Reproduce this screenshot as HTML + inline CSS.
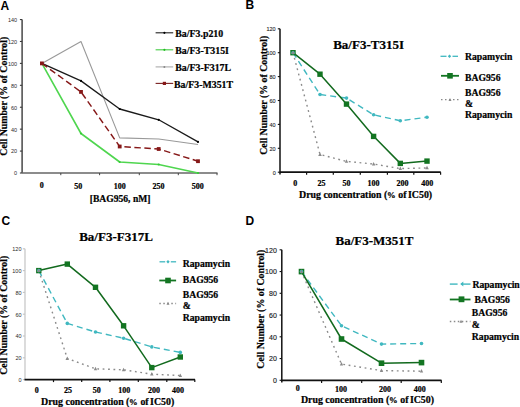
<!DOCTYPE html>
<html><head><meta charset="utf-8"><style>
html,body{margin:0;padding:0;background:#fff;}
body{width:520px;height:407px;overflow:hidden;font-family:"Liberation Serif", serif;}
svg{display:block;}
</style></head><body>
<svg width="520" height="407" viewBox="0 0 520 407">
<rect width="520" height="407" fill="#fff"/>
<text x="0.5" y="9.6" font-size="12" font-weight="bold" font-family='"Liberation Sans", sans-serif' text-anchor="start" fill="#000" >A</text>
<text x="245.5" y="9" font-size="12" font-weight="bold" font-family='"Liberation Sans", sans-serif' text-anchor="start" fill="#000" >B</text>
<text x="1.6" y="224.8" font-size="12" font-weight="bold" font-family='"Liberation Sans", sans-serif' text-anchor="start" fill="#000" >C</text>
<text x="245.5" y="224.5" font-size="12" font-weight="bold" font-family='"Liberation Sans", sans-serif' text-anchor="start" fill="#000" >D</text>
<line x1="22.1" y1="19.560000000000002" x2="22.1" y2="173" stroke="#3a3a3a" stroke-width="1.4" />
<line x1="19.900000000000002" y1="173.0" x2="22.1" y2="173.0" stroke="#3a3a3a" stroke-width="1.1" />
<text x="17.1" y="175.38" font-size="5.5" font-weight="normal" font-family='"Liberation Sans", sans-serif' text-anchor="end" fill="#2a2a2a" >0</text>
<line x1="19.900000000000002" y1="151.07999999999998" x2="22.1" y2="151.07999999999998" stroke="#3a3a3a" stroke-width="1.1" />
<text x="17.1" y="153.45999999999998" font-size="5.5" font-weight="normal" font-family='"Liberation Sans", sans-serif' text-anchor="end" fill="#2a2a2a" >20</text>
<line x1="19.900000000000002" y1="129.16" x2="22.1" y2="129.16" stroke="#3a3a3a" stroke-width="1.1" />
<text x="17.1" y="131.54" font-size="5.5" font-weight="normal" font-family='"Liberation Sans", sans-serif' text-anchor="end" fill="#2a2a2a" >40</text>
<line x1="19.900000000000002" y1="107.24" x2="22.1" y2="107.24" stroke="#3a3a3a" stroke-width="1.1" />
<text x="17.1" y="109.62" font-size="5.5" font-weight="normal" font-family='"Liberation Sans", sans-serif' text-anchor="end" fill="#2a2a2a" >60</text>
<line x1="19.900000000000002" y1="85.32" x2="22.1" y2="85.32" stroke="#3a3a3a" stroke-width="1.1" />
<text x="17.1" y="87.7" font-size="5.5" font-weight="normal" font-family='"Liberation Sans", sans-serif' text-anchor="end" fill="#2a2a2a" >80</text>
<line x1="19.900000000000002" y1="63.39999999999999" x2="22.1" y2="63.39999999999999" stroke="#3a3a3a" stroke-width="1.1" />
<text x="17.1" y="65.78" font-size="5.5" font-weight="normal" font-family='"Liberation Sans", sans-serif' text-anchor="end" fill="#2a2a2a" >100</text>
<line x1="19.900000000000002" y1="41.47999999999999" x2="22.1" y2="41.47999999999999" stroke="#3a3a3a" stroke-width="1.1" />
<text x="17.1" y="43.859999999999985" font-size="5.5" font-weight="normal" font-family='"Liberation Sans", sans-serif' text-anchor="end" fill="#2a2a2a" >120</text>
<line x1="19.900000000000002" y1="19.560000000000002" x2="22.1" y2="19.560000000000002" stroke="#3a3a3a" stroke-width="1.1" />
<text x="17.1" y="21.94" font-size="5.5" font-weight="normal" font-family='"Liberation Sans", sans-serif' text-anchor="end" fill="#2a2a2a" >140</text>
<line x1="22" y1="173" x2="217.5" y2="173" stroke="#666" stroke-width="1.6" />
<line x1="60.8" y1="173" x2="60.8" y2="175.2" stroke="#444" stroke-width="1" />
<line x1="99.6" y1="173" x2="99.6" y2="175.2" stroke="#444" stroke-width="1" />
<line x1="139.3" y1="173" x2="139.3" y2="175.2" stroke="#444" stroke-width="1" />
<line x1="178.3" y1="173" x2="178.3" y2="175.2" stroke="#444" stroke-width="1" />
<line x1="217" y1="173" x2="217" y2="175.2" stroke="#444" stroke-width="1" />
<text x="41.7" y="187.8" font-size="8" font-weight="bold" font-family='"Liberation Serif", serif' text-anchor="middle" fill="#000"  stroke="#000" stroke-width="0.22">0</text>
<text x="78.2" y="188.6" font-size="8" font-weight="bold" font-family='"Liberation Serif", serif' text-anchor="middle" fill="#000"  stroke="#000" stroke-width="0.22">50</text>
<text x="119.8" y="188.6" font-size="8" font-weight="bold" font-family='"Liberation Serif", serif' text-anchor="middle" fill="#000"  stroke="#000" stroke-width="0.22">100</text>
<text x="158.4" y="188.6" font-size="8" font-weight="bold" font-family='"Liberation Serif", serif' text-anchor="middle" fill="#000"  stroke="#000" stroke-width="0.22">250</text>
<text x="197.7" y="188.6" font-size="8" font-weight="bold" font-family='"Liberation Serif", serif' text-anchor="middle" fill="#000"  stroke="#000" stroke-width="0.22">500</text>
<text x="120.1" y="202.0" font-size="9.6" font-weight="bold" font-family='"Liberation Serif", serif' text-anchor="middle" fill="#000"  stroke="#000" stroke-width="0.22">[BAG956, nM]</text>
<text transform="translate(7.1,96.2) rotate(-90)" x="0" y="0" font-size="9.87" font-weight="bold" font-family='"Liberation Serif", serif' text-anchor="middle" fill="#000" stroke="#000" stroke-width="0.2">Cell Number (% of Control)</text>
<polyline points="41.9,63.4 81.0,41.5 119.7,137.9 158.7,139.0 198.0,144.5" fill="none" stroke="#999" stroke-width="1.1" stroke-linejoin="round" />
<polyline points="41.9,63.4 81.0,80.9 119.7,109.0 158.7,119.8 198.0,141.9" fill="none" stroke="#1a1a1a" stroke-width="1.3" stroke-linejoin="round" />
<polyline points="41.9,63.4 81.0,133.5 119.7,162.0 158.7,164.5 198.0,173.0" fill="none" stroke="#4fd64f" stroke-width="1.6" stroke-linejoin="round" />
<polyline points="41.9,63.4 81.0,91.9 119.7,146.5 158.7,149.0 198.0,161.2" fill="none" stroke="#861818" stroke-width="1.45" stroke-linejoin="round" stroke-dasharray="6.5,3.5"/>
<circle cx="41.9" cy="63.4" r="1.1" fill="#3c3"/>
<circle cx="81.0" cy="133.5" r="1.1" fill="#3c3"/>
<circle cx="119.7" cy="162.0" r="1.1" fill="#3c3"/>
<circle cx="158.7" cy="164.5" r="1.1" fill="#3c3"/>
<circle cx="198.0" cy="173.0" r="1.1" fill="#3c3"/>
<circle cx="41.9" cy="63.4" r="1.1" fill="#000"/>
<circle cx="81.0" cy="80.9" r="1.1" fill="#000"/>
<circle cx="119.7" cy="109.0" r="1.1" fill="#000"/>
<circle cx="158.7" cy="119.8" r="1.1" fill="#000"/>
<circle cx="198.0" cy="141.9" r="1.1" fill="#000"/>
<rect x="40.0" y="61.5" width="3.8" height="3.8" fill="#861818"/>
<rect x="79.1" y="90.0" width="3.8" height="3.8" fill="#861818"/>
<rect x="117.8" y="144.6" width="3.8" height="3.8" fill="#861818"/>
<rect x="156.8" y="147.1" width="3.8" height="3.8" fill="#861818"/>
<rect x="196.1" y="159.3" width="3.8" height="3.8" fill="#861818"/>
<line x1="155.6" y1="32.8" x2="173.2" y2="32.8" stroke="#222" stroke-width="1.1" />
<text x="175.3" y="37.1" font-size="9.85" font-weight="bold" font-family='"Liberation Serif", serif' text-anchor="start" fill="#000"  stroke="#000" stroke-width="0.22">Ba/F3.p210</text>
<line x1="155.6" y1="49.8" x2="173.2" y2="49.8" stroke="#4c4" stroke-width="1.1" />
<text x="175.3" y="54.0" font-size="9.85" font-weight="bold" font-family='"Liberation Serif", serif' text-anchor="start" fill="#000"  stroke="#000" stroke-width="0.22">Ba/F3-T315I</text>
<line x1="155.6" y1="66.9" x2="173.2" y2="66.9" stroke="#aaa" stroke-width="1.1" />
<text x="175.3" y="70.5" font-size="9.85" font-weight="bold" font-family='"Liberation Serif", serif' text-anchor="start" fill="#000"  stroke="#000" stroke-width="0.22">Ba/F3-F317L</text>
<line x1="155.6" y1="83.4" x2="173.2" y2="83.4" stroke="#7a2020" stroke-width="1.1" />
<text x="174" y="87.9" font-size="9.85" font-weight="bold" font-family='"Liberation Serif", serif' text-anchor="start" fill="#000"  stroke="#000" stroke-width="0.22">Ba/F3-M351T</text>
<rect x="162.8" y="81.8" width="3.2" height="3.2" fill="#861818"/>
<circle cx="164.4" cy="32.8" r="1.1" fill="#000"/>
<circle cx="164.4" cy="49.8" r="1.1" fill="#2b2"/>
<circle cx="164.4" cy="66.9" r="1.0" fill="#888"/>
<line x1="280" y1="28.799999999999983" x2="280" y2="174.39999999999998" stroke="#111" stroke-width="1.5" />
<line x1="277.8" y1="172.2" x2="280" y2="172.2" stroke="#111" stroke-width="1.1" />
<text x="275.7" y="174.57999999999998" font-size="5.5" font-weight="normal" font-family='"Liberation Sans", sans-serif' text-anchor="end" fill="#2a2a2a" stroke="#2a2a2a" stroke-width="0.12">0</text>
<line x1="277.8" y1="148.29999999999998" x2="280" y2="148.29999999999998" stroke="#111" stroke-width="1.1" />
<text x="275.7" y="150.67999999999998" font-size="5.5" font-weight="normal" font-family='"Liberation Sans", sans-serif' text-anchor="end" fill="#2a2a2a" stroke="#2a2a2a" stroke-width="0.12">20</text>
<line x1="277.8" y1="124.39999999999998" x2="280" y2="124.39999999999998" stroke="#111" stroke-width="1.1" />
<text x="275.7" y="126.77999999999999" font-size="5.5" font-weight="normal" font-family='"Liberation Sans", sans-serif' text-anchor="end" fill="#2a2a2a" stroke="#2a2a2a" stroke-width="0.12">40</text>
<line x1="277.8" y1="100.49999999999999" x2="280" y2="100.49999999999999" stroke="#111" stroke-width="1.1" />
<text x="275.7" y="102.88" font-size="5.5" font-weight="normal" font-family='"Liberation Sans", sans-serif' text-anchor="end" fill="#2a2a2a" stroke="#2a2a2a" stroke-width="0.12">60</text>
<line x1="277.8" y1="76.59999999999998" x2="280" y2="76.59999999999998" stroke="#111" stroke-width="1.1" />
<text x="275.7" y="78.97999999999999" font-size="5.5" font-weight="normal" font-family='"Liberation Sans", sans-serif' text-anchor="end" fill="#2a2a2a" stroke="#2a2a2a" stroke-width="0.12">80</text>
<line x1="277.8" y1="52.69999999999999" x2="280" y2="52.69999999999999" stroke="#111" stroke-width="1.1" />
<text x="275.7" y="55.079999999999984" font-size="5.5" font-weight="normal" font-family='"Liberation Sans", sans-serif' text-anchor="end" fill="#2a2a2a" stroke="#2a2a2a" stroke-width="0.12">100</text>
<line x1="277.8" y1="28.799999999999983" x2="280" y2="28.799999999999983" stroke="#111" stroke-width="1.1" />
<text x="275.7" y="31.179999999999982" font-size="5.5" font-weight="normal" font-family='"Liberation Sans", sans-serif' text-anchor="end" fill="#2a2a2a" stroke="#2a2a2a" stroke-width="0.12">120</text>
<line x1="280" y1="172.2" x2="440.8" y2="172.2" stroke="#111" stroke-width="1.8" />
<line x1="306.6" y1="172.2" x2="306.6" y2="174.79999999999998" stroke="#111" stroke-width="1.2" />
<line x1="333.3" y1="172.2" x2="333.3" y2="174.79999999999998" stroke="#111" stroke-width="1.2" />
<line x1="360.3" y1="172.2" x2="360.3" y2="174.79999999999998" stroke="#111" stroke-width="1.2" />
<line x1="387.4" y1="172.2" x2="387.4" y2="174.79999999999998" stroke="#111" stroke-width="1.2" />
<line x1="413.8" y1="172.2" x2="413.8" y2="174.79999999999998" stroke="#111" stroke-width="1.2" />
<line x1="440.6" y1="172.2" x2="440.6" y2="174.79999999999998" stroke="#111" stroke-width="1.2" />
<text x="295.3" y="186" font-size="8" font-weight="bold" font-family='"Liberation Serif", serif' text-anchor="middle" fill="#000"  stroke="#000" stroke-width="0.22">0</text>
<text x="321.6" y="186" font-size="8" font-weight="bold" font-family='"Liberation Serif", serif' text-anchor="middle" fill="#000"  stroke="#000" stroke-width="0.22">25</text>
<text x="346.6" y="186" font-size="8" font-weight="bold" font-family='"Liberation Serif", serif' text-anchor="middle" fill="#000"  stroke="#000" stroke-width="0.22">50</text>
<text x="373.5" y="186" font-size="8" font-weight="bold" font-family='"Liberation Serif", serif' text-anchor="middle" fill="#000"  stroke="#000" stroke-width="0.22">100</text>
<text x="402.5" y="186" font-size="8" font-weight="bold" font-family='"Liberation Serif", serif' text-anchor="middle" fill="#000"  stroke="#000" stroke-width="0.22">200</text>
<text x="427.2" y="186" font-size="8" font-weight="bold" font-family='"Liberation Serif", serif' text-anchor="middle" fill="#000"  stroke="#000" stroke-width="0.22">400</text>
<text x="299.0" y="197.6" font-size="9.9" font-weight="bold" font-family='"Liberation Serif", serif' text-anchor="start" fill="#000"  stroke="#000" stroke-width="0.22">Drug concentration (</text>
<text x="387.0" y="197.6" font-size="8.6" font-weight="bold" font-family='"Liberation Serif", serif' text-anchor="start" fill="#000"  stroke="#000" stroke-width="0.22">%</text>
<text x="398.3" y="197.6" font-size="9.9" font-weight="bold" font-family='"Liberation Serif", serif' text-anchor="start" fill="#000"  stroke="#000" stroke-width="0.22">of</text>
<text x="408.0" y="197.6" font-size="9.9" font-weight="bold" font-family='"Liberation Serif", serif' text-anchor="start" fill="#000"  stroke="#000" stroke-width="0.22">IC50)</text>
<text x="368.6" y="48.8" font-size="13" font-weight="bold" font-family='"Liberation Serif", serif' text-anchor="middle" fill="#000"  stroke="#000" stroke-width="0.22">Ba/F3-T315I</text>
<text transform="translate(266.7,95.3) rotate(-90)" x="0" y="0" font-size="9.87" font-weight="bold" font-family='"Liberation Serif", serif' text-anchor="middle" fill="#000" stroke="#000" stroke-width="0.2">Cell Number (% of Control)</text>
<polyline points="293.0,52.7 320.0,154.5 346.5,161.4 373.6,164.0 400.3,168.6 427.0,167.9" fill="none" stroke="#8a8a8a" stroke-width="1.4" stroke-linejoin="round" stroke-dasharray="1.8,3.6"/>
<polyline points="293.0,52.7 320.0,94.5 346.5,98.1 373.6,114.8 400.3,120.8 427.0,117.2" fill="none" stroke="#40b8c0" stroke-width="1.4" stroke-linejoin="round" stroke-dasharray="6,4"/>
<polyline points="293.0,52.7 320.0,74.2 346.5,104.1 373.6,136.3 400.3,163.4 427.0,161.1" fill="none" stroke="#126a1e" stroke-width="1.5" stroke-linejoin="round" />
<rect x="290.3" y="50.0" width="5.4" height="5.4" fill="#137522"/>
<rect x="317.3" y="71.5" width="5.4" height="5.4" fill="#137522"/>
<rect x="343.8" y="101.4" width="5.4" height="5.4" fill="#137522"/>
<rect x="370.9" y="133.7" width="5.4" height="5.4" fill="#137522"/>
<rect x="397.6" y="160.7" width="5.4" height="5.4" fill="#137522"/>
<rect x="424.3" y="158.4" width="5.4" height="5.4" fill="#137522"/>
<circle cx="293.0" cy="52.7" r="1.8" fill="#40b8c0"/>
<circle cx="320.0" cy="94.5" r="1.8" fill="#40b8c0"/>
<circle cx="346.5" cy="98.1" r="1.8" fill="#40b8c0"/>
<circle cx="373.6" cy="114.8" r="1.8" fill="#40b8c0"/>
<circle cx="400.3" cy="120.8" r="1.8" fill="#40b8c0"/>
<circle cx="427.0" cy="117.2" r="1.8" fill="#40b8c0"/>
<polygon points="293.0,50.6 294.8,54.1 291.2,54.1" fill="#8a8a8a"/>
<polygon points="320.0,152.4 321.8,155.9 318.2,155.9" fill="#8a8a8a"/>
<polygon points="346.5,159.3 348.2,162.8 344.8,162.8" fill="#8a8a8a"/>
<polygon points="373.6,161.9 375.4,165.4 371.9,165.4" fill="#8a8a8a"/>
<polygon points="400.3,166.5 402.1,170.0 398.6,170.0" fill="#8a8a8a"/>
<polygon points="427.0,165.8 428.8,169.3 425.2,169.3" fill="#8a8a8a"/>
<line x1="440.5" y1="56.3" x2="446.5" y2="56.3" stroke="#40b8c0" stroke-width="1.3" />
<line x1="452.5" y1="56.3" x2="458" y2="56.3" stroke="#40b8c0" stroke-width="1.3" />
<polygon points="449.5,54.6 451.2,56.3 449.5,58.0 447.8,56.3" fill="#40b8c0"/>
<line x1="441" y1="75.8" x2="459" y2="75.8" stroke="#137522" stroke-width="1.8" />
<rect x="447.2" y="73.0" width="5.6" height="5.6" fill="#137522"/>
<line x1="441" y1="99.7" x2="459" y2="99.7" stroke="#8a8a8a" stroke-width="1.3" stroke-dasharray="1.5,2.5"/>
<polygon points="450.0,97.9 451.5,100.9 448.5,100.9" fill="#8a8a8a"/>
<text x="465" y="60.3" font-size="9.7" font-weight="bold" font-family='"Liberation Serif", serif' text-anchor="start" fill="#000"  stroke="#000" stroke-width="0.22">Rapamycin</text>
<text x="465" y="80.6" font-size="9.7" font-weight="bold" font-family='"Liberation Serif", serif' text-anchor="start" fill="#000"  stroke="#000" stroke-width="0.22">BAG956</text>
<text x="465" y="95.8" font-size="9.7" font-weight="bold" font-family='"Liberation Serif", serif' text-anchor="start" fill="#000"  stroke="#000" stroke-width="0.22">BAG956</text>
<text x="465" y="107.3" font-size="9.7" font-weight="bold" font-family='"Liberation Serif", serif' text-anchor="start" fill="#000"  stroke="#000" stroke-width="0.22">&amp;</text>
<text x="465" y="118.4" font-size="9.7" font-weight="bold" font-family='"Liberation Serif", serif' text-anchor="start" fill="#000"  stroke="#000" stroke-width="0.22">Rapamycin</text>
<line x1="25" y1="248.8" x2="25" y2="379.6" stroke="#c4c4c4" stroke-width="1.2" />
<line x1="22.8" y1="379.6" x2="25" y2="379.6" stroke="#c4c4c4" stroke-width="1.1" />
<text x="21.5" y="381.98" font-size="5.5" font-weight="normal" font-family='"Liberation Sans", sans-serif' text-anchor="end" fill="#2a2a2a" >0</text>
<line x1="22.8" y1="357.8" x2="25" y2="357.8" stroke="#c4c4c4" stroke-width="1.1" />
<text x="21.5" y="360.18" font-size="5.5" font-weight="normal" font-family='"Liberation Sans", sans-serif' text-anchor="end" fill="#2a2a2a" >20</text>
<line x1="22.8" y1="336.0" x2="25" y2="336.0" stroke="#c4c4c4" stroke-width="1.1" />
<text x="21.5" y="338.38" font-size="5.5" font-weight="normal" font-family='"Liberation Sans", sans-serif' text-anchor="end" fill="#2a2a2a" >40</text>
<line x1="22.8" y1="314.20000000000005" x2="25" y2="314.20000000000005" stroke="#c4c4c4" stroke-width="1.1" />
<text x="21.5" y="316.58000000000004" font-size="5.5" font-weight="normal" font-family='"Liberation Sans", sans-serif' text-anchor="end" fill="#2a2a2a" >60</text>
<line x1="22.8" y1="292.40000000000003" x2="25" y2="292.40000000000003" stroke="#c4c4c4" stroke-width="1.1" />
<text x="21.5" y="294.78000000000003" font-size="5.5" font-weight="normal" font-family='"Liberation Sans", sans-serif' text-anchor="end" fill="#2a2a2a" >80</text>
<line x1="22.8" y1="270.6" x2="25" y2="270.6" stroke="#c4c4c4" stroke-width="1.1" />
<text x="21.5" y="272.98" font-size="5.5" font-weight="normal" font-family='"Liberation Sans", sans-serif' text-anchor="end" fill="#2a2a2a" >100</text>
<line x1="22.8" y1="248.8" x2="25" y2="248.8" stroke="#c4c4c4" stroke-width="1.1" />
<text x="21.5" y="251.18" font-size="5.5" font-weight="normal" font-family='"Liberation Sans", sans-serif' text-anchor="end" fill="#2a2a2a" >120</text>
<line x1="24.5" y1="379.6" x2="195" y2="379.6" stroke="#111" stroke-width="1.7" />
<line x1="53.5" y1="379.6" x2="53.5" y2="382.1" stroke="#111" stroke-width="1.2" />
<line x1="81.7" y1="379.6" x2="81.7" y2="382.1" stroke="#111" stroke-width="1.2" />
<line x1="109.9" y1="379.6" x2="109.9" y2="382.1" stroke="#111" stroke-width="1.2" />
<line x1="138.3" y1="379.6" x2="138.3" y2="382.1" stroke="#111" stroke-width="1.2" />
<line x1="166.8" y1="379.6" x2="166.8" y2="382.1" stroke="#111" stroke-width="1.2" />
<line x1="194.8" y1="379.6" x2="194.8" y2="382.1" stroke="#111" stroke-width="1.2" />
<text x="36.8" y="393" font-size="8" font-weight="bold" font-family='"Liberation Serif", serif' text-anchor="middle" fill="#000"  stroke="#000" stroke-width="0.22">0</text>
<text x="67.9" y="393" font-size="8" font-weight="bold" font-family='"Liberation Serif", serif' text-anchor="middle" fill="#000"  stroke="#000" stroke-width="0.22">25</text>
<text x="96.8" y="393" font-size="8" font-weight="bold" font-family='"Liberation Serif", serif' text-anchor="middle" fill="#000"  stroke="#000" stroke-width="0.22">50</text>
<text x="124.3" y="393" font-size="8" font-weight="bold" font-family='"Liberation Serif", serif' text-anchor="middle" fill="#000"  stroke="#000" stroke-width="0.22">100</text>
<text x="154.1" y="393" font-size="8" font-weight="bold" font-family='"Liberation Serif", serif' text-anchor="middle" fill="#000"  stroke="#000" stroke-width="0.22">200</text>
<text x="178" y="393" font-size="8" font-weight="bold" font-family='"Liberation Serif", serif' text-anchor="middle" fill="#000"  stroke="#000" stroke-width="0.22">400</text>
<text x="41.1" y="404.8" font-size="9.9" font-weight="bold" font-family='"Liberation Serif", serif' text-anchor="start" fill="#000"  stroke="#000" stroke-width="0.22">Drug concentration (</text>
<text x="129.1" y="404.8" font-size="8.6" font-weight="bold" font-family='"Liberation Serif", serif' text-anchor="start" fill="#000"  stroke="#000" stroke-width="0.22">%</text>
<text x="140.4" y="404.8" font-size="9.9" font-weight="bold" font-family='"Liberation Serif", serif' text-anchor="start" fill="#000"  stroke="#000" stroke-width="0.22">of</text>
<text x="150.1" y="404.8" font-size="9.9" font-weight="bold" font-family='"Liberation Serif", serif' text-anchor="start" fill="#000"  stroke="#000" stroke-width="0.22">IC50)</text>
<text x="116" y="241.2" font-size="13" font-weight="bold" font-family='"Liberation Serif", serif' text-anchor="middle" fill="#000"  stroke="#000" stroke-width="0.22">Ba/F3-F317L</text>
<text transform="translate(7.2,315.3) rotate(-90)" x="0" y="0" font-size="9.87" font-weight="bold" font-family='"Liberation Serif", serif' text-anchor="middle" fill="#000" stroke="#000" stroke-width="0.2">Cell Number (% of Control)</text>
<polyline points="38.8,270.6 67.3,358.5 95.5,368.8 123.6,369.8 151.8,374.2 180.3,375.5" fill="none" stroke="#8a8a8a" stroke-width="1.4" stroke-linejoin="round" stroke-dasharray="1.8,3.6"/>
<polyline points="38.8,270.6 67.3,323.4 95.5,332.0 123.6,338.2 151.8,346.9 180.3,352.4" fill="none" stroke="#40b8c0" stroke-width="1.4" stroke-linejoin="round" stroke-dasharray="6,4"/>
<polyline points="38.8,270.6 67.3,264.1 95.5,287.3 123.6,325.8 151.8,367.6 180.3,357.0" fill="none" stroke="#126a1e" stroke-width="1.5" stroke-linejoin="round" />
<rect x="36.1" y="267.9" width="5.4" height="5.4" fill="#137522"/>
<rect x="64.6" y="261.4" width="5.4" height="5.4" fill="#137522"/>
<rect x="92.8" y="284.6" width="5.4" height="5.4" fill="#137522"/>
<rect x="120.9" y="323.1" width="5.4" height="5.4" fill="#137522"/>
<rect x="149.1" y="364.9" width="5.4" height="5.4" fill="#137522"/>
<rect x="177.6" y="354.3" width="5.4" height="5.4" fill="#137522"/>
<circle cx="38.8" cy="270.6" r="1.8" fill="#40b8c0"/>
<circle cx="67.3" cy="323.4" r="1.8" fill="#40b8c0"/>
<circle cx="95.5" cy="332.0" r="1.8" fill="#40b8c0"/>
<circle cx="123.6" cy="338.2" r="1.8" fill="#40b8c0"/>
<circle cx="151.8" cy="346.9" r="1.8" fill="#40b8c0"/>
<circle cx="180.3" cy="352.4" r="1.8" fill="#40b8c0"/>
<polygon points="38.8,268.5 40.5,272.0 37.0,272.0" fill="#8a8a8a"/>
<polygon points="67.3,356.4 69.0,359.9 65.5,359.9" fill="#8a8a8a"/>
<polygon points="95.5,366.7 97.2,370.2 93.8,370.2" fill="#8a8a8a"/>
<polygon points="123.6,367.7 125.3,371.2 121.8,371.2" fill="#8a8a8a"/>
<polygon points="151.8,372.1 153.6,375.6 150.1,375.6" fill="#8a8a8a"/>
<polygon points="180.3,373.4 182.1,376.9 178.6,376.9" fill="#8a8a8a"/>
<line x1="159.5" y1="261.8" x2="165.2" y2="261.8" stroke="#40b8c0" stroke-width="1.3" />
<line x1="170.8" y1="261.8" x2="176.1" y2="261.8" stroke="#40b8c0" stroke-width="1.3" />
<polygon points="168.0,260.1 169.7,261.8 168.0,263.5 166.3,261.8" fill="#40b8c0"/>
<line x1="159.3" y1="280.5" x2="176.1" y2="280.5" stroke="#137522" stroke-width="1.8" />
<rect x="165.2" y="277.7" width="5.6" height="5.6" fill="#137522"/>
<line x1="159.3" y1="303.5" x2="176.1" y2="303.5" stroke="#8a8a8a" stroke-width="1.3" stroke-dasharray="1.5,2.5"/>
<polygon points="168.0,301.7 169.5,304.7 166.5,304.7" fill="#8a8a8a"/>
<text x="182.7" y="266.6" font-size="9.7" font-weight="bold" font-family='"Liberation Serif", serif' text-anchor="start" fill="#000"  stroke="#000" stroke-width="0.22">Rapamycin</text>
<text x="182.7" y="283.2" font-size="9.7" font-weight="bold" font-family='"Liberation Serif", serif' text-anchor="start" fill="#000"  stroke="#000" stroke-width="0.22">BAG956</text>
<text x="182.7" y="297.6" font-size="9.7" font-weight="bold" font-family='"Liberation Serif", serif' text-anchor="start" fill="#000"  stroke="#000" stroke-width="0.22">BAG956</text>
<text x="182.7" y="309.3" font-size="9.7" font-weight="bold" font-family='"Liberation Serif", serif' text-anchor="start" fill="#000"  stroke="#000" stroke-width="0.22">&amp;</text>
<text x="182.7" y="320.8" font-size="9.7" font-weight="bold" font-family='"Liberation Serif", serif' text-anchor="start" fill="#000"  stroke="#000" stroke-width="0.22">Rapamycin</text>
<line x1="281.8" y1="249.8" x2="281.8" y2="382.5" stroke="#111" stroke-width="1.5" />
<line x1="279.6" y1="380.3" x2="281.8" y2="380.3" stroke="#111" stroke-width="1.1" />
<text x="276.8" y="383.21999999999997" font-size="7" font-weight="normal" font-family='"Liberation Sans", sans-serif' text-anchor="end" fill="#1a1a1a" stroke="#1a1a1a" stroke-width="0.15">0</text>
<line x1="279.6" y1="358.55" x2="281.8" y2="358.55" stroke="#111" stroke-width="1.1" />
<text x="276.8" y="361.46999999999997" font-size="7" font-weight="normal" font-family='"Liberation Sans", sans-serif' text-anchor="end" fill="#1a1a1a" stroke="#1a1a1a" stroke-width="0.15">20</text>
<line x1="279.6" y1="336.8" x2="281.8" y2="336.8" stroke="#111" stroke-width="1.1" />
<text x="276.8" y="339.71999999999997" font-size="7" font-weight="normal" font-family='"Liberation Sans", sans-serif' text-anchor="end" fill="#1a1a1a" stroke="#1a1a1a" stroke-width="0.15">40</text>
<line x1="279.6" y1="315.05" x2="281.8" y2="315.05" stroke="#111" stroke-width="1.1" />
<text x="276.8" y="317.96999999999997" font-size="7" font-weight="normal" font-family='"Liberation Sans", sans-serif' text-anchor="end" fill="#1a1a1a" stroke="#1a1a1a" stroke-width="0.15">60</text>
<line x1="279.6" y1="293.3" x2="281.8" y2="293.3" stroke="#111" stroke-width="1.1" />
<text x="276.8" y="296.21999999999997" font-size="7" font-weight="normal" font-family='"Liberation Sans", sans-serif' text-anchor="end" fill="#1a1a1a" stroke="#1a1a1a" stroke-width="0.15">80</text>
<line x1="279.6" y1="271.55" x2="281.8" y2="271.55" stroke="#111" stroke-width="1.1" />
<text x="276.8" y="274.46999999999997" font-size="7" font-weight="normal" font-family='"Liberation Sans", sans-serif' text-anchor="end" fill="#1a1a1a" stroke="#1a1a1a" stroke-width="0.15">100</text>
<line x1="279.6" y1="249.8" x2="281.8" y2="249.8" stroke="#111" stroke-width="1.1" />
<text x="276.8" y="252.72000000000003" font-size="7" font-weight="normal" font-family='"Liberation Sans", sans-serif' text-anchor="end" fill="#1a1a1a" stroke="#1a1a1a" stroke-width="0.15">120</text>
<line x1="281.8" y1="380.3" x2="441.5" y2="380.3" stroke="#111" stroke-width="1.8" />
<line x1="321.6" y1="380.3" x2="321.6" y2="382.90000000000003" stroke="#111" stroke-width="1.2" />
<line x1="361.7" y1="380.3" x2="361.7" y2="382.90000000000003" stroke="#111" stroke-width="1.2" />
<line x1="401.2" y1="380.3" x2="401.2" y2="382.90000000000003" stroke="#111" stroke-width="1.2" />
<line x1="441.3" y1="380.3" x2="441.3" y2="382.90000000000003" stroke="#111" stroke-width="1.2" />
<text x="297.7" y="390.5" font-size="8" font-weight="bold" font-family='"Liberation Serif", serif' text-anchor="middle" fill="#000"  stroke="#000" stroke-width="0.22">0</text>
<text x="340.9" y="392" font-size="8" font-weight="bold" font-family='"Liberation Serif", serif' text-anchor="middle" fill="#000"  stroke="#000" stroke-width="0.22">100</text>
<text x="385.1" y="392" font-size="8" font-weight="bold" font-family='"Liberation Serif", serif' text-anchor="middle" fill="#000"  stroke="#000" stroke-width="0.22">200</text>
<text x="419.7" y="392" font-size="8" font-weight="bold" font-family='"Liberation Serif", serif' text-anchor="middle" fill="#000"  stroke="#000" stroke-width="0.22">400</text>
<text x="300.9" y="403.3" font-size="9.9" font-weight="bold" font-family='"Liberation Serif", serif' text-anchor="start" fill="#000"  stroke="#000" stroke-width="0.22">Drug concentration (</text>
<text x="388.9" y="403.3" font-size="8.6" font-weight="bold" font-family='"Liberation Serif", serif' text-anchor="start" fill="#000"  stroke="#000" stroke-width="0.22">%</text>
<text x="400.2" y="403.3" font-size="9.9" font-weight="bold" font-family='"Liberation Serif", serif' text-anchor="start" fill="#000"  stroke="#000" stroke-width="0.22">of</text>
<text x="409.9" y="403.3" font-size="9.9" font-weight="bold" font-family='"Liberation Serif", serif' text-anchor="start" fill="#000"  stroke="#000" stroke-width="0.22">IC50)</text>
<text x="374.5" y="244.8" font-size="13" font-weight="bold" font-family='"Liberation Serif", serif' text-anchor="middle" fill="#000"  stroke="#000" stroke-width="0.22">Ba/F3-M351T</text>
<text transform="translate(263.5,309.15) rotate(-90)" x="0" y="0" font-size="9.87" font-weight="bold" font-family='"Liberation Serif", serif' text-anchor="middle" fill="#000" stroke="#000" stroke-width="0.2">Cell Number (% of Control)</text>
<polyline points="301.5,271.6 341.5,364.1 381.5,370.6 421.5,371.2" fill="none" stroke="#8a8a8a" stroke-width="1.4" stroke-linejoin="round" stroke-dasharray="1.8,3.6"/>
<polyline points="301.5,271.6 341.5,325.7 381.5,344.1 421.5,343.5" fill="none" stroke="#40b8c0" stroke-width="1.4" stroke-linejoin="round" stroke-dasharray="6,4"/>
<polyline points="301.5,271.6 341.5,339.0 381.5,363.2 421.5,362.6" fill="none" stroke="#126a1e" stroke-width="1.5" stroke-linejoin="round" />
<rect x="298.7" y="268.8" width="5.6" height="5.6" fill="#137522"/>
<rect x="338.7" y="336.2" width="5.6" height="5.6" fill="#137522"/>
<rect x="378.7" y="360.4" width="5.6" height="5.6" fill="#137522"/>
<rect x="418.7" y="359.8" width="5.6" height="5.6" fill="#137522"/>
<circle cx="301.5" cy="271.6" r="1.8" fill="#40b8c0"/>
<circle cx="341.5" cy="325.7" r="1.8" fill="#40b8c0"/>
<circle cx="381.5" cy="344.1" r="1.8" fill="#40b8c0"/>
<circle cx="421.5" cy="343.5" r="1.8" fill="#40b8c0"/>
<polygon points="301.5,269.4 303.2,272.9 299.8,272.9" fill="#8a8a8a"/>
<polygon points="341.5,362.0 343.2,365.5 339.8,365.5" fill="#8a8a8a"/>
<polygon points="381.5,368.5 383.2,372.0 379.8,372.0" fill="#8a8a8a"/>
<polygon points="421.5,369.1 423.2,372.6 419.8,372.6" fill="#8a8a8a"/>
<line x1="449.8" y1="284.1" x2="457.6" y2="284.1" stroke="#40b8c0" stroke-width="1.4" />
<line x1="461" y1="284.1" x2="470.5" y2="284.1" stroke="#40b8c0" stroke-width="1.4" />
<polygon points="463.3,281.6 463.3,286.6 460.2,284.1" fill="#40b8c0"/>
<line x1="449.8" y1="299.5" x2="470.5" y2="299.5" stroke="#137522" stroke-width="1.8" />
<rect x="458.6" y="296.4" width="5.8" height="5.8" fill="#137522"/>
<line x1="449.8" y1="321.5" x2="470.5" y2="321.5" stroke="#8a8a8a" stroke-width="1.3" stroke-dasharray="1.5,2.5"/>
<polygon points="461.0,319.7 462.5,322.7 459.5,322.7" fill="#8a8a8a"/>
<text x="472.4" y="287.5" font-size="9.7" font-weight="bold" font-family='"Liberation Serif", serif' text-anchor="start" fill="#000"  stroke="#000" stroke-width="0.22">Rapamycin</text>
<text x="474.4" y="302.9" font-size="9.7" font-weight="bold" font-family='"Liberation Serif", serif' text-anchor="start" fill="#000"  stroke="#000" stroke-width="0.22">BAG956</text>
<text x="471.8" y="315.6" font-size="9.7" font-weight="bold" font-family='"Liberation Serif", serif' text-anchor="start" fill="#000"  stroke="#000" stroke-width="0.22">BAG956</text>
<text x="471.8" y="328.4" font-size="9.7" font-weight="bold" font-family='"Liberation Serif", serif' text-anchor="start" fill="#000"  stroke="#000" stroke-width="0.22">&amp;</text>
<text x="471.8" y="339.8" font-size="9.7" font-weight="bold" font-family='"Liberation Serif", serif' text-anchor="start" fill="#000"  stroke="#000" stroke-width="0.22">Rapamycin</text>
</svg>
</body></html>
